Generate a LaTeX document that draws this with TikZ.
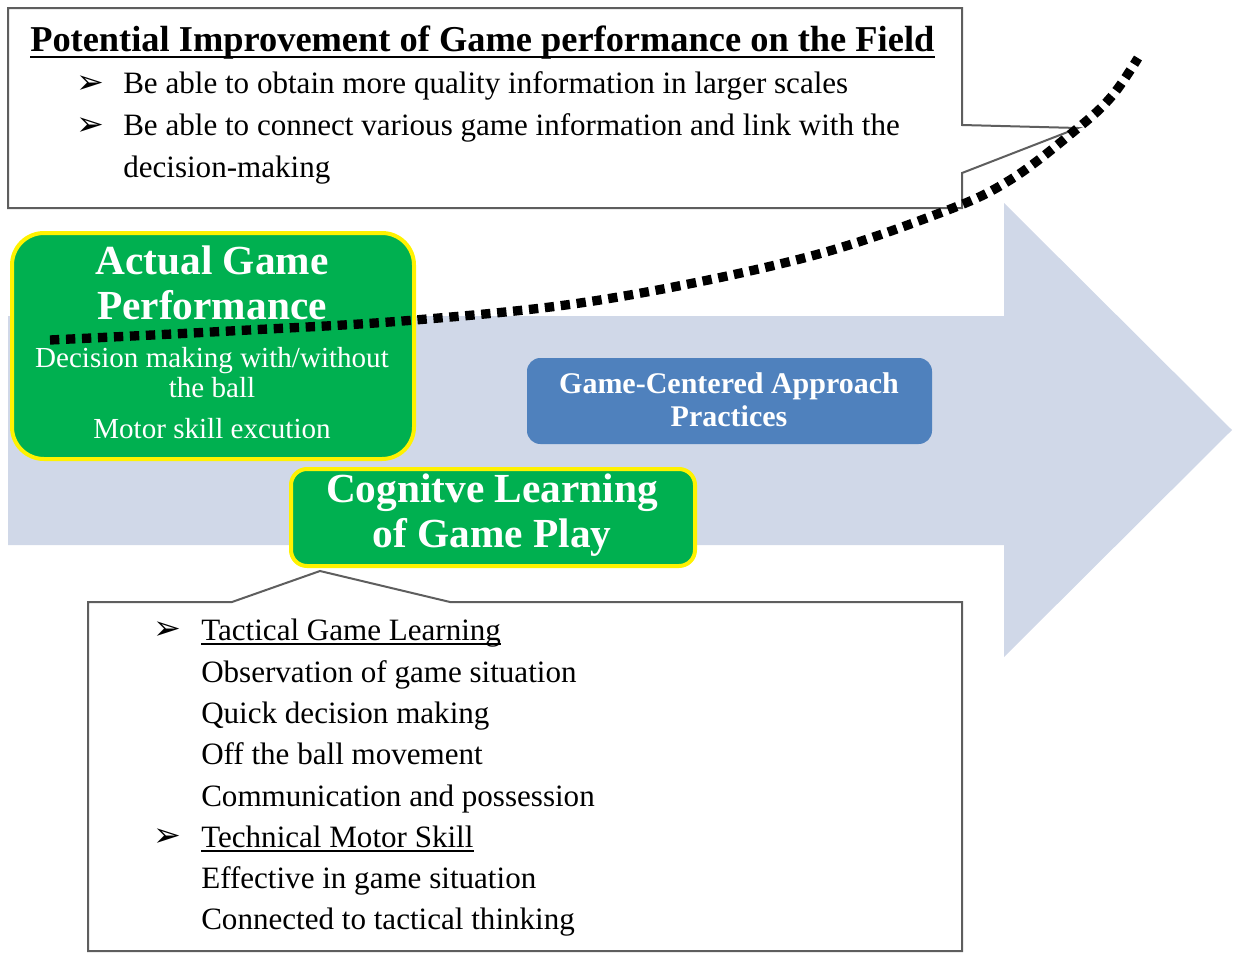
\documentclass[tikz,border=0pt]{standalone}
\usepackage{fontspec}
\setmainfont{Liberation Serif}
\newfontfamily\symfont{DejaVu Sans}
\definecolor{arrowfill}{HTML}{D0D8E8}
\definecolor{ggreen}{HTML}{00B050}
\definecolor{gblue}{HTML}{4F81BD}
\definecolor{bordergray}{HTML}{5E5E5E}
\tikzset{
  callout/.style={draw=bordergray, fill=white, line width=1.5pt, line join=miter},
  greenbox/.style={draw=yellow, fill=ggreen, line width=3pt, rounded corners=24pt},
  bluebox/.style={fill=gblue, rounded corners=10pt},
  bodytxt/.style={inner sep=0pt, anchor=base west, font=\fontsize{23.3}{27}\selectfont},
  whitetxt/.style={inner sep=0pt, text=white, align=center},
  bul/.style={inner sep=0pt, anchor=base west, font=\symfont\fontsize{25}{27}\selectfont},
  ulline/.style={line width=1pt},
  dotline/.style={line width=7pt, dash pattern=on 7pt off 5pt}
}
\begin{document}
\begin{tikzpicture}[x=0.75pt,y=-0.75pt]
\useasboundingbox (0,0) rectangle (1236,953);
% big background arrow
\fill[arrowfill] (8,316) -- (1004,316) -- (1004,203) -- (1232,430) -- (1004,657) -- (1004,545) -- (8,545) -- cycle;

% top callout
\coordinate (tip1) at (1078,128);
\draw[callout] (8,8) -- (962,8) -- (962,125) -- (tip1) -- (962,173) -- (962,208) -- (8,208) -- cycle;
\node[bodytxt, font=\bfseries\fontsize{27.3}{31}\selectfont] (title) at (30,51) {Potential Improvement of Game performance on the Field};
\draw[line width=2pt] ([yshift=-4.5pt]title.base west) -- ([yshift=-4.5pt]title.base east);
\node[bul] (b1) at (76,93) {➢};
\node[bodytxt] (t1) at (123,93) {Be able to obtain more quality information in larger scales};
\node[bul] (b2) at (76,135) {➢};
\node[bodytxt] (t2) at (123,135) {Be able to connect various game information and link with the};
\node[bodytxt] (t3) at (123,177) {decision-making};

% bottom callout
\coordinate (tip2) at (320,571);
\draw[callout] (88,602) -- (232,602) -- (tip2) -- (450,602) -- (962,602) -- (962,951) -- (88,951) -- cycle;
\node[bul] (b3) at (153,639) {➢};
\node[bodytxt] (s1) at (201,640) {Tactical Game Learning};
\draw[ulline] ([yshift=-3pt]s1.base west) -- ([yshift=-3pt]s1.base east);
\node[bodytxt] (s2) at (201,682) {Observation of game situation};
\node[bodytxt] (s3) at (201,723) {Quick decision making};
\node[bodytxt] (s4) at (201,764) {Off the ball movement};
\node[bodytxt] (s5) at (201,806) {Communication and possession};
\node[bul] (b4) at (153,846) {➢};
\node[bodytxt] (s6) at (201,847) {Technical Motor Skill};
\draw[ulline] ([yshift=-3pt]s6.base west) -- ([yshift=-3pt]s6.base east);
\node[bodytxt] (s7) at (201,888) {Effective in game situation};
\node[bodytxt] (s8) at (201,929) {Connected to tactical thinking};

% Actual game performance box
\draw[greenbox] (12,233) rectangle (414,459);
\node[whitetxt, font=\bfseries\fontsize{31}{34}\selectfont] (agp) at (212,283) {Actual Game\\Performance};
\node[whitetxt, font=\fontsize{21.8}{22.5}\selectfont] (agp2) at (212,373) {Decision making with/without\\the ball};
\node[whitetxt, font=\fontsize{21.8}{22.5}\selectfont] (agp3) at (212,429) {Motor skill excution};

% Game-centered approach
\fill[bluebox] (527,358) rectangle (932,444);
\node[whitetxt, font=\bfseries\fontsize{22.5}{25}\selectfont] (gca) at (729,400) {Game-Centered Approach\\Practices};

% Cognitive learning
\draw[greenbox, rounded corners=12pt] (291,469) rectangle (695,566);
\node[whitetxt, font=\bfseries\fontsize{31}{34}\selectfont] (cl) at (492,515) {Cognitve Learning\\of Game Play};

% dotted improvement curve
\draw[dotline] plot[smooth, tension=0.6] coordinates {(50,340) (230,331) (415,320) (600,300) (800,259) (940,213) (1010,180) (1078,128) (1112,96) (1138,58)};
\end{tikzpicture}
\end{document}
